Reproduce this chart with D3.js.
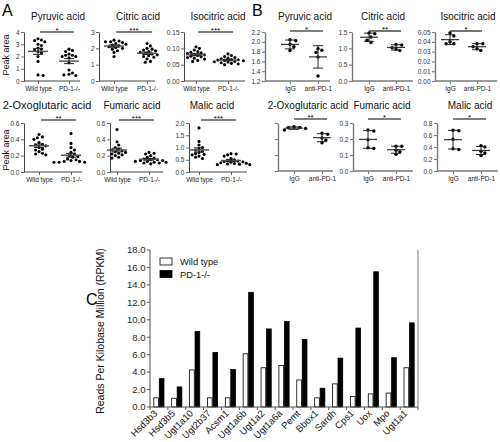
<!DOCTYPE html>
<html><head><meta charset="utf-8">
<script src="https://cdn.jsdelivr.net/npm/d3@7"></script>
<style>
body{margin:0;background:#fff}
svg{display:block}
text{font-family:"Liberation Sans",Arial,Helvetica,sans-serif}
</style>
</head><body>
<svg id="chart" width="500" height="442"></svg>
<script>
// ---------------- DATA ----------------
const groupsA = ["Wild type", "PD-1-/-"];
const groupsB = ["IgG", "anti-PD-1"];
const metabolites = ["Pyruvic acid", "Citric acid", "Isocitric acid", "2-Oxoglutaric acid", "Fumaric acid", "Malic acid"];

const aPyruvicWT = [3.45, 3.35, 3.3, 3.2, 3.0, 2.9, 2.7, 2.6, 2.5, 2.4, 2.3, 2.0, 1.6, 0.5, 0.45];
const aPyruvicKO = [2.6, 2.5, 2.4, 2.2, 2.1, 2.1, 2.0, 2.0, 1.9, 1.5, 0.9, 0.65, 0.55, 0.5, 0.45];
const aCitricWT = [2.5, 2.45, 2.4, 2.4, 2.35, 2.3, 2.25, 2.2, 2.15, 2.1, 2.05, 2.0, 1.95, 1.85, 1.75, 1.5];
const aCitricKO = [2.3, 2.15, 2.0, 1.95, 1.9, 1.85, 1.8, 1.75, 1.7, 1.65, 1.6, 1.55, 1.5, 1.45, 1.35, 1.2, 1.15];
const aIsocitricWT = [0.105, 0.1, 0.095, 0.09, 0.088, 0.086, 0.084, 0.082, 0.08, 0.078, 0.076, 0.074, 0.072, 0.07, 0.067, 0.063, 0.06];
const aIsocitricKO = [0.083, 0.078, 0.075, 0.072, 0.07, 0.068, 0.066, 0.065, 0.064, 0.063, 0.062, 0.06, 0.059, 0.058, 0.056, 0.054, 0.052, 0.05];
const aOxoWT = [0.46, 0.43, 0.42, 0.40, 0.36, 0.34, 0.33, 0.32, 0.30, 0.28, 0.27, 0.25, 0.23, 0.22, 0.21];
const aOxoKO = [0.47, 0.35, 0.30, 0.27, 0.24, 0.22, 0.20, 0.19, 0.18, 0.16, 0.15, 0.14, 0.13, 0.13, 0.12, 0.12, 0.12];
const aFumaricWT = [0.52, 0.37, 0.33, 0.30, 0.28, 0.27, 0.26, 0.25, 0.24, 0.23, 0.22, 0.21, 0.20, 0.18, 0.17];
const aFumaricKO = [0.24, 0.23, 0.22, 0.20, 0.18, 0.17, 0.16, 0.15, 0.15, 0.14, 0.14, 0.13, 0.13, 0.12, 0.12, 0.11, 0.11, 0.10];
const aMalicWT = [1.8, 1.25, 1.1, 1.0, 0.95, 0.9, 0.85, 0.8, 0.75, 0.72, 0.7, 0.65, 0.6, 0.55];
const aMalicKO = [0.75, 0.73, 0.7, 0.65, 0.55, 0.5, 0.48, 0.45, 0.43, 0.42, 0.4, 0.38, 0.36, 0.35, 0.33, 0.32, 0.3, 0.3];

const bPyruvicIgG = [2.04, 2.02, 1.95, 1.90, 1.82];
const bPyruvicAnti = [1.86, 1.83, 1.78, 1.69, 1.30];
const bCitricIgG = [1.47, 1.45, 1.35, 1.25, 1.18];
const bCitricAnti = [1.12, 1.10, 1.02, 0.97, 0.93];
const bIsocitricIgG = [0.049, 0.046, 0.040, 0.038, 0.038];
const bIsocitricAnti = [0.038, 0.038, 0.035, 0.033, 0.031];
const bOxoIgG = [0.138, 0.136, 0.135, 0.133, 0.128];
const bOxoAnti = [0.118, 0.115, 0.103, 0.097, 0.088];
const bFumaricIgG = [0.256, 0.25, 0.195, 0.145, 0.14];
const bFumaricAnti = [0.155, 0.155, 0.13, 0.12, 0.105];
const bMalicIgG = [0.68, 0.67, 0.53, 0.37, 0.36];
const bMalicAnti = [0.42, 0.40, 0.33, 0.30, 0.26];

const ticksA = [[0, 1, 2, 3, 4], [0, 1, 2, 3], [0, 0.05, 0.10, 0.15], [0, 0.2, 0.4, 0.6], [0, 0.2, 0.4, 0.6], [0, 0.5, 1.0, 1.5, 2.0]];
const tickFmtA = ["d", "d", ".2f", ".1f", ".1f", ".1f"];
const ticksB = [[1.2, 1.4, 1.6, 1.8, 2.0, 2.2], [0, 0.5, 1.0, 1.5], [0, 0.01, 0.02, 0.03, 0.04, 0.05], [0, 0.05, 0.10, 0.15], [0, 0.1, 0.2, 0.3], [0, 0.2, 0.4, 0.6, 0.8]];
const tickFmtB = [".1f", ".1f", ".2f", ".2f", ".1f", ".1f"];
const starsA = ["*", "***", "***", "**", "***", "***"];
const starsB = ["*", "**", "*", "**", "*", "*"];

const genes = ["Hsd3b3", "Hsd3b5", "Ugt1a10", "Ugt2b37", "Acsm1", "Ugt1a6b", "Ugt1a2", "Ugt1a6a", "Pemt", "Bbox1", "Sardh", "Cps1", "Uox", "Mpo", "Ugt1a1"];
const rpkmWT = [1.05, 1.0, 4.25, 1.05, 1.05, 6.1, 4.5, 4.75, 3.1, 1.05, 2.65, 1.2, 1.5, 1.6, 4.5];
const rpkmKO = [3.25, 2.3, 8.65, 6.25, 4.3, 13.15, 8.95, 9.8, 7.75, 2.15, 5.6, 9.05, 15.5, 5.65, 9.65];
const rpkmTicks = [0, 2, 4, 6, 8, 10, 12, 14, 16, 18];
const legendC = ["Wild type", "PD-1-/-"];

const svg = d3.select("#chart");

// ---------------- PANELS A & B ----------------
const layoutA = [
  {x0: 24, x1: 80, c: [38, 69], yT: 32, yB: 81, tx: 58, ty: 20, bar: 32},
  {x0: 99, x1: 155, c: [114, 147], yT: 32, yB: 81, tx: 138, ty: 20, bar: 32},
  {x0: 184, x1: 245, c: [196, 228], yT: 32, yB: 81, tx: 218, ty: 20, bar: 32},
  {x0: 24, x1: 82, c: [39, 71], yT: 123, yB: 172, tx: 47, ty: 109, bar: 120, tfs: 11},
  {x0: 110, x1: 163, c: [117, 149], yT: 123, yB: 172, tx: 132, ty: 109, bar: 120},
  {x0: 189, x1: 247, c: [199, 231], yT: 123, yB: 172, tx: 212, ty: 109, bar: 120}
];
const layoutB = [
  {x0: 265, x1: 330, c: [290, 318], yT: 32, yB: 81, tx: 305, ty: 20, bar: 31},
  {x0: 352, x1: 413, c: [369, 396], yT: 32, yB: 81, tx: 383, ty: 20, bar: 31},
  {x0: 435, x1: 497, c: [450, 477], yT: 32, yB: 81, tx: 468, ty: 20, bar: 31},
  {x0: 278, x1: 333, c: [294, 322], yT: 123, yB: 171, tx: 308, ty: 109, bar: 119, clip: true},
  {x0: 353, x1: 413, c: [368, 396], yT: 123, yB: 171, tx: 382, ty: 109, bar: 119},
  {x0: 437, x1: 498, c: [453, 481], yT: 123, yB: 171, tx: 470, ty: 109, bar: 119}
];

const dataA = [[aPyruvicWT, aPyruvicKO], [aCitricWT, aCitricKO], [aIsocitricWT, aIsocitricKO], [aOxoWT, aOxoKO], [aFumaricWT, aFumaricKO], [aMalicWT, aMalicKO]];
const dataB = [[bPyruvicIgG, bPyruvicAnti], [bCitricIgG, bCitricAnti], [bIsocitricIgG, bIsocitricAnti], [bOxoIgG, bOxoAnti], [bFumaricIgG, bFumaricAnti], [bMalicIgG, bMalicAnti]];

svg.append("defs").append("clipPath").attr("id", "clipB").append("rect")
  .attr("x", 250).attr("y", 100).attr("width", 60).attr("height", 90);

function swarm(vals, y, r) {
  const placed = [];
  const res = new Array(vals.length);
  const order = vals.map((v, i) => i).sort((a, b) => vals[b] - vals[a]);
  order.forEach(i => {
    const py = y(vals[i]);
    let dx = 0;
    for (let k = 0; k < 60; k++) {
      const cand = k === 0 ? 0 : (k % 2 ? 1 : -1) * Math.ceil(k / 2) * r * 1.1;
      if (placed.every(p => (p.x - cand) ** 2 + (p.y - py) ** 2 >= (2 * r + 0.5) ** 2)) { dx = cand; break; }
    }
    placed.push({x: dx, y: py});
    res[i] = dx;
  });
  return res;
}

function dotPlot(L, data, ticks, fmt, groups, title, stars, mode) {
  const g = svg.append("g");
  const axCol = mode === "sem" ? "#444" : "#7a7a7a";
  const axW = mode === "sem" ? 1 : 1.4;
  const y = d3.scaleLinear().domain([ticks[0], ticks[ticks.length - 1]]).range([L.yB, L.yT]);
  const x = d3.scalePoint().domain(groups).range(L.c);

  g.append("text").attr("x", L.tx).attr("y", L.ty).attr("text-anchor", "middle")
    .attr("font-size", L.tfs || 10).attr("fill", "#111").text(title);

  const ya = g.append("g").attr("transform", `translate(${L.x0},0)`)
    .call(d3.axisLeft(y).tickValues(ticks).tickFormat(d3.format(fmt)).tickSize(3).tickSizeOuter(0).tickPadding(1.5));
  ya.select(".domain").attr("stroke", axCol).attr("stroke-width", axW);
  ya.selectAll(".tick line").attr("stroke", axCol).attr("stroke-width", axW * 0.8);
  ya.selectAll(".tick text").attr("font-size", 6.5).attr("fill", "#333")
    .attr("font-family", '"Liberation Sans",Arial,sans-serif');
  if (L.clip) ya.selectAll(".tick text").attr("clip-path", "url(#clipB)");

  g.append("line").attr("x1", L.x0).attr("x2", L.x1).attr("y1", L.yB).attr("y2", L.yB)
    .attr("stroke", axCol).attr("stroke-width", axW);
  const xa = g.append("g").attr("transform", `translate(0,${L.yB})`)
    .call(d3.axisBottom(x).tickSize(3).tickSizeOuter(0).tickPadding(2));
  xa.select(".domain").remove();
  xa.selectAll(".tick line").attr("stroke", axCol).attr("stroke-width", axW * 0.8);
  xa.selectAll(".tick text").attr("font-size", 6.5).attr("fill", "#222")
    .attr("font-family", '"Liberation Sans",Arial,sans-serif');

  const r = mode === "sem" ? 1.55 : 1.75;
  data.forEach((vals, gi) => {
    const cx = x(groups[gi]);
    const offs = swarm(vals, y, r);
    g.selectAll(null).data(vals).join("circle")
      .attr("cx", (d, i) => cx + offs[i]).attr("cy", d => y(d)).attr("r", r).attr("fill", "#000");
    const m = d3.mean(vals);
    const sd = d3.deviation(vals);
    const e = mode === "sem" ? sd / Math.sqrt(vals.length) : sd;
    const half = mode === "sem" ? 10 : 9;
    g.append("line").attr("x1", cx - half).attr("x2", cx + half).attr("y1", y(m)).attr("y2", y(m))
      .attr("stroke", mode === "sem" ? "#555" : "#333").attr("stroke-width", mode === "sem" ? 1.5 : 1.2);
    g.append("line").attr("x1", cx).attr("x2", cx).attr("y1", y(m - e)).attr("y2", y(m + e))
      .attr("stroke", "#222").attr("stroke-width", 1);
    [m - e, m + e].forEach(v => {
      g.append("line").attr("x1", cx - 5).attr("x2", cx + 5).attr("y1", y(v)).attr("y2", y(v))
        .attr("stroke", "#222").attr("stroke-width", 1);
    });
  });

  const s0 = x(groups[0]) + (mode === "sem" ? 2 : 0);
  const s1 = x(groups[1]) + 5;
  g.append("line").attr("x1", s0).attr("x2", s1).attr("y1", L.bar).attr("y2", L.bar)
    .attr("stroke", "#000").attr("stroke-width", 1.1);
  g.append("text").attr("x", (s0 + s1) / 2).attr("y", L.bar + 0.5).attr("text-anchor", "middle")
    .attr("font-size", 8).attr("fill", "#000").text(stars);
}

layoutA.forEach((L, i) => dotPlot(L, dataA[i], ticksA[i], tickFmtA[i], groupsA, metabolites[i], starsA[i], "sem"));
layoutB.forEach((L, i) => dotPlot(L, dataB[i], ticksB[i], tickFmtB[i], groupsB, metabolites[i], starsB[i], "sd"));

[55, 150].forEach(cy => {
  svg.append("text").attr("transform", `translate(9,${cy}) rotate(-90)`).attr("text-anchor", "middle")
    .attr("font-size", 9).attr("fill", "#111").text("Peak area");
});

svg.append("text").attr("x", 2).attr("y", 16).attr("font-size", 16).text("A");
svg.append("text").attr("x", 252).attr("y", 16).attr("font-size", 16).text("B");
svg.append("text").attr("x", 86).attr("y", 305).attr("font-size", 16).text("C");

// ---------------- PANEL C ----------------
const gc = svg.append("g").attr("class", "panelC");
const xC = d3.scaleBand().domain(genes).range([150, 418]).paddingInner(0.385).paddingOuter(0.19);
const xS = d3.scaleBand().domain(legendC).range([0, xC.bandwidth()]);
const yC = d3.scaleLinear().domain([0, 18]).range([407, 250]);
const cLeft = xC.range()[0], cRight = xC.range()[1];

[rpkmWT, rpkmKO].forEach((vals, si) => {
  gc.selectAll(null).data(genes).join("rect")
    .attr("x", d => xC(d) + xS(legendC[si]) + 0.4)
    .attr("width", xS.bandwidth() - 0.8)
    .attr("y", (d, i) => yC(vals[i]))
    .attr("height", (d, i) => yC(0) - yC(vals[i]))
    .attr("fill", si === 0 ? "#fff" : "#000")
    .attr("stroke", "#000").attr("stroke-width", 0.8);
});

gc.append("line").attr("x1", cLeft).attr("x2", cLeft).attr("y1", yC(18)).attr("y2", yC(0))
  .attr("stroke", "#555").attr("stroke-width", 1);
gc.selectAll(null).data(rpkmTicks).join("line")
  .attr("x1", cLeft - 3).attr("x2", cLeft).attr("y1", d => yC(d)).attr("y2", d => yC(d))
  .attr("stroke", "#555").attr("stroke-width", 1);

// y tick labels in their own nested svg viewport
const tickSvg = svg.append("svg").attr("x", 112).attr("y", 240).attr("width", 36).attr("height", 180)
  .attr("overflow", "visible");
tickSvg.selectAll(null).data(rpkmTicks).join("text")
  .attr("x", cLeft - 4.5 - 112).attr("y", d => yC(d) + 3.3 - 240).attr("text-anchor", "end")
  .attr("font-size", 9.5).attr("fill", "#222").text(d => d3.format(".1f")(d));

gc.append("line").attr("x1", cLeft).attr("x2", cRight).attr("y1", yC(0)).attr("y2", yC(0)).attr("stroke", "#555");
gc.append("line").attr("x1", cRight).attr("x2", cRight).attr("y1", yC(18)).attr("y2", yC(0)).attr("stroke", "#777");
const bounds = d3.range(genes.length + 1).map(i => cLeft + i * xC.step());
gc.selectAll(null).data(bounds).join("line")
  .attr("x1", d => Math.min(d, cRight)).attr("x2", d => Math.min(d, cRight))
  .attr("y1", yC(0)).attr("y2", yC(0) + 3).attr("stroke", "#555");
gc.selectAll(null).data(genes).join("text")
  .attr("transform", d => `translate(${xC(d) + xC.bandwidth() / 2 - 1},${yC(0) + 7}) rotate(-45)`)
  .attr("text-anchor", "end").attr("font-size", 9.5).attr("fill", "#111").text(d => d);

gc.append("text").attr("transform", "translate(104,331) rotate(-90)").attr("text-anchor", "middle")
  .attr("font-size", 10.5).attr("fill", "#111").text("Reads Per Kilobase Million (RPKM)");

legendC.forEach((name, i) => {
  gc.append("rect").attr("x", 160).attr("y", 258 + i * 12.5).attr("width", 12).attr("height", 7)
    .attr("fill", i === 0 ? "#fff" : "#000").attr("stroke", "#000").attr("stroke-width", 0.8);
  gc.append("text").attr("x", 180).attr("y", 265 + i * 12.5).attr("font-size", 9.3).attr("fill", "#111").text(name);
});
</script>
</body></html>
